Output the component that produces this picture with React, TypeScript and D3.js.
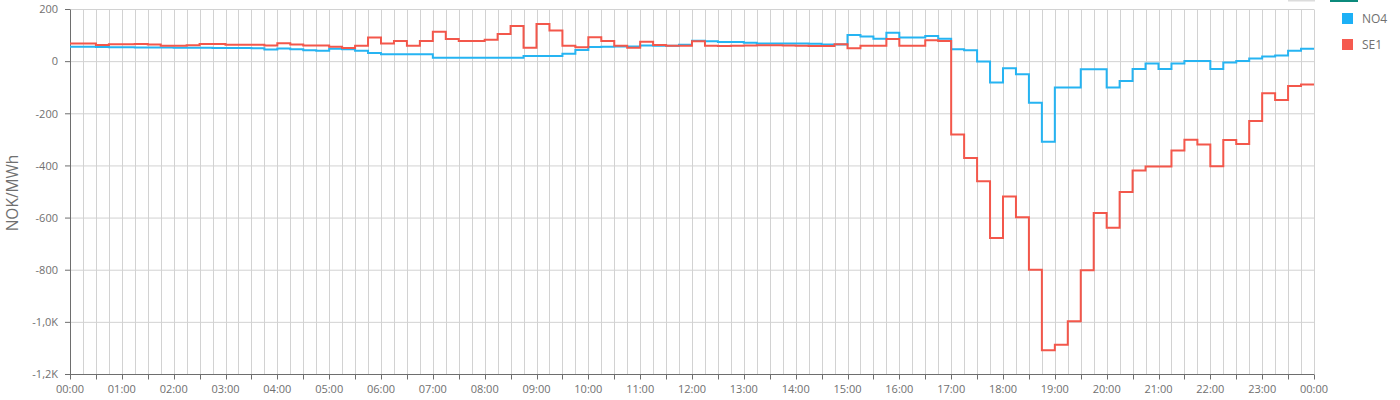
import React from "react";
import * as d3 from "d3";

const W = 1400;
const H = 400;
const margin = { top: 9.5, right: 86, bottom: 25.5, left: 70 };

// quarter-hour prices, NOK/MWh, 96 steps from 00:00
const NO4 = [
  57, 57, 56, 55, 55, 54, 54, 54, 53, 53, 53, 52, 52, 52, 51, 47,
  50, 48, 44, 42, 49, 48, 42, 33, 28, 28, 28, 28, 15, 15, 15, 15,
  15, 15, 15, 22, 22, 22, 30, 45, 56, 57, 58, 58, 62, 61, 61, 65,
  80, 78, 75, 75, 72, 70, 70, 70, 70, 69, 66, 66, 102, 96, 88, 111,
  93, 93, 98, 88, 48, 44, 1, -80, -25, -48, -158, -307, -99, -99, -29, -29,
  -99, -74, -28, -7, -28, -7, 2, 2, -28, -3, 2, 12, 20, 24, 42, 49,
];

const SE1 = [
  70, 70, 64, 67, 67, 68, 66, 61, 61, 63, 68, 68, 65, 65, 65, 62,
  71, 66, 62, 62, 57, 52, 61, 93, 70, 79, 61, 79, 115, 87, 79, 79,
  84, 106, 137, 53, 144, 119, 61, 55, 94, 79, 61, 53, 76, 64, 61, 61,
  78, 61, 60, 61, 62, 63, 63, 62, 61, 60, 60, 67, 51, 61, 61, 87,
  61, 61, 82, 79, -279, -370, -459, -676, -517, -597, -798, -1107, -1086, -996, -800, -581,
  -637, -500, -418, -402, -402, -341, -300, -318, -401, -301, -316, -228, -121, -147, -93, -88,
];

const Y_TICKS = [200, 0, -200, -400, -600, -800, -1000, -1200];
const HOUR_LABELS = [
  "00:00", "01:00", "02:00", "03:00", "04:00", "05:00", "06:00", "07:00", "08:00",
  "09:00", "10:00", "11:00", "12:00", "13:00", "14:00", "15:00", "16:00", "17:00",
  "18:00", "19:00", "20:00", "21:00", "22:00", "23:00", "00:00",
];

const SERIES = [
  { name: "NO4", values: NO4, color: "#26b4f2", legend: "#1cb0f6" },
  { name: "SE1", values: SE1, color: "#f3574b", legend: "#f55a4f" },
];

const FONT = "'Open Sans', 'Segoe UI', sans-serif";
const AXIS = "#6e6e6e";
const GRID = "#d2d2d2";
const TEXT = "#707070";

const fmtY = (v: number) => {
  if (Math.abs(v) >= 1000) return (v / 1000).toFixed(1).replace(".", ",") + "K";
  return String(v);
};

export default function App() {
  const innerW = W - margin.left - margin.right;
  const innerH = H - margin.top - margin.bottom;

  const x = d3.scaleLinear().domain([0, 96]).range([margin.left, margin.left + innerW]);
  const y = d3.scaleLinear().domain([-1200, 200]).range([margin.top + innerH, margin.top]);

  const line = d3
    .line<[number, number]>()
    .x((d) => x(d[0]))
    .y((d) => y(d[1]))
    .curve(d3.curveStepAfter);

  const quarters = d3.range(0, 97);
  const halfHours = d3.range(0, 97, 2);
  const bottom = margin.top + innerH;

  return (
    <svg
      width={W}
      height={H}
      style={{ position: "absolute", left: 0, top: 0, fontFamily: FONT }}
    >
      <rect x={0} y={0} width={W} height={H} fill="#fff" />

      {/* grid */}
      {quarters.map((q) => (
        <line key={"v" + q} x1={Math.round(x(q)) + 0.5} x2={Math.round(x(q)) + 0.5}
          y1={margin.top} y2={bottom} stroke={GRID} strokeWidth={1} />
      ))}
      {Y_TICKS.map((t) => (
        <line key={"h" + t} x1={margin.left} x2={margin.left + innerW}
          y1={y(t)} y2={y(t)} stroke={GRID} strokeWidth={1} />
      ))}

      {/* y axis */}
      <line x1={margin.left + 0.5} x2={margin.left + 0.5} y1={margin.top} y2={bottom} stroke={AXIS} />
      {Y_TICKS.map((t) => (
        <g key={"yt" + t}>
          <line x1={margin.left - 5} x2={margin.left} y1={y(t)} y2={y(t)} stroke={AXIS} />
          <text x={margin.left - 12} y={y(t)} dy="0.35em" textAnchor="end"
            fontSize={11} fill={TEXT}>{fmtY(t)}</text>
        </g>
      ))}
      <text transform={`translate(13,${margin.top + innerH / 2 + 1}) rotate(-90)`}
        textAnchor="middle" dy="0.35em" fontSize={15.5} fill={TEXT}>NOK/MWh</text>

      {/* x axis */}
      <line x1={margin.left} x2={margin.left + innerW} y1={bottom} y2={bottom} stroke={AXIS} />
      {halfHours.map((q) => (
        <line key={"xt" + q} x1={Math.round(x(q)) + 0.5} x2={Math.round(x(q)) + 0.5}
          y1={bottom} y2={bottom + 5} stroke={AXIS} />
      ))}
      {HOUR_LABELS.map((lab, i) => (
        <text key={"xl" + i} x={x(i * 4)} y={bottom + 18} textAnchor="middle"
          fontSize={11} fill={TEXT}>{lab}</text>
      ))}

      {/* series */}
      {SERIES.map((s) => {
        const pts: [number, number][] = s.values.map((v, i) => [i, v] as [number, number]);
        pts.push([96, s.values[s.values.length - 1]]);
        return (
          <path key={s.name} d={line(pts) || ""} fill="none" stroke={s.color}
            strokeWidth={2} strokeLinejoin="miter" />
        );
      })}

      {/* top-right controls (cut off) */}
      <rect x={1288} y={0} width={27} height={1.5} fill="#dcdcdc" />
      <rect x={1330} y={0} width={28} height={2} fill="#0b8a7c" />

      {/* legend */}
      {SERIES.map((s, i) => (
        <g key={"lg" + s.name} transform={`translate(1342,${13 + i * 26})`}>
          <rect x={0} y={0} width={11} height={11} fill={s.legend} />
          <text x={20} y={5.5} dy="0.35em" fontSize={12} fill={TEXT}>{s.name}</text>
        </g>
      ))}
    </svg>
  );
}
